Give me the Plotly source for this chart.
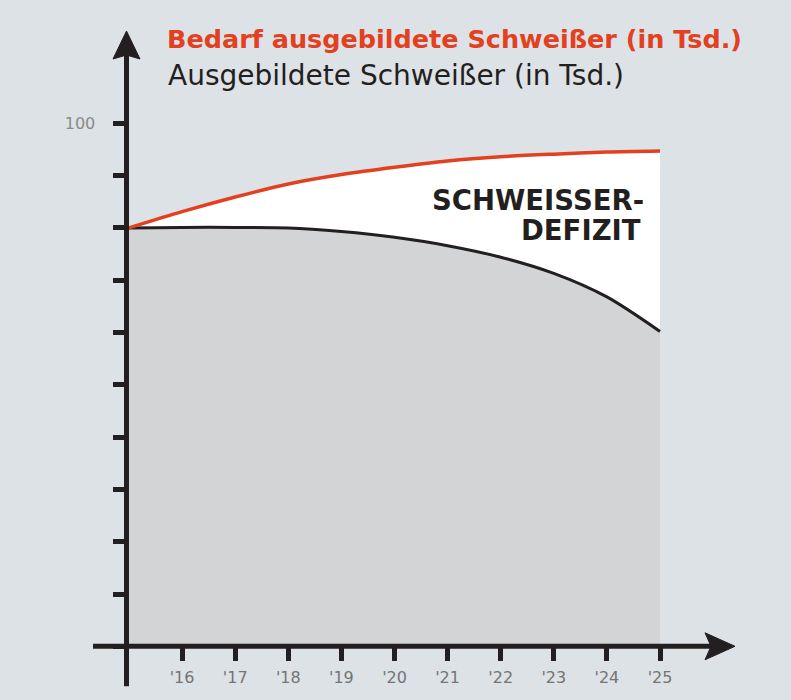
import plotly.graph_objects as go

# ---- data ----
years = [2015, 2016, 2017, 2018, 2019, 2020, 2021, 2022, 2023, 2024, 2025]
bedarf = [80.0, 83.1, 85.9, 88.4, 90.2, 91.6, 92.8, 93.6, 94.1, 94.5, 94.7]
ausgebildet = [80.0, 80.1, 80.1, 80.0, 79.3, 78.2, 76.6, 74.4, 71.3, 66.8, 60.2]
x_tickvals = [2016, 2017, 2018, 2019, 2020, 2021, 2022, 2023, 2024, 2025]
x_ticktext = ["'16", "'17", "'18", "'19", "'20", "'21", "'22", "'23", "'24", "'25"]
y_tickvals = [0, 10, 20, 30, 40, 50, 60, 70, 80, 90, 100]
y_ticktext = ["", "", "", "", "", "", "", "", "", "", "100"]

title_red = "Bedarf ausgebildete Schweißer (in Tsd.)"
title_black = "Ausgebildete Schweißer (in Tsd.)"
label_lines = ["SCHWEISSER-", "DEFIZIT"]

# ---- style ----
BG = "#dde2e6"
GRAY_FILL = "#d3d4d6"
RED = "#e2401f"
DARK = "#231f20"
W, H = 791, 700

fig = go.Figure()
fig.add_trace(go.Scatter(
    x=years, y=ausgebildet, mode="lines",
    line=dict(color=DARK, width=3, shape="spline", smoothing=0.8),
    fill="tozeroy", fillcolor=GRAY_FILL, hoverinfo="skip", showlegend=False))
fig.add_trace(go.Scatter(
    x=years, y=bedarf, mode="lines",
    line=dict(color=RED, width=3.5, shape="spline", smoothing=0.8),
    fill="tonexty", fillcolor="#ffffff", hoverinfo="skip", showlegend=False))

# pixel mapping of reference: 2015 -> 129px, 53.1 px/yr ; 0 -> 646.3px, 5.23 px/unit
px_per_yr = 53.1
px_per_unit = 5.23
x0_px = 129.0
y0_px = 646.3
xr = [2015 - x0_px / px_per_yr, 2015 + (W - x0_px) / px_per_yr]
yr = [-(H - y0_px) / px_per_unit, y0_px / px_per_unit]
yaxis_x = 2015 - 2.5 / px_per_yr

# axis lines (decoration)
fig.add_shape(type="line", xref="x", yref="y",
              x0=2015 - 36 / px_per_yr, x1=2015 + 595 / px_per_yr, y0=0, y1=0,
              line=dict(color=DARK, width=5), layer="above")
fig.add_shape(type="line", xref="x", yref="y",
              x0=yaxis_x, x1=yaxis_x, y0=-40 / px_per_unit, y1=(y0_px - 45) / px_per_unit,
              line=dict(color=DARK, width=5), layer="above")
# arrowheads
fig.add_shape(type="path", xref="x", yref="y", xsizemode="pixel", ysizemode="pixel",
              xanchor=2015 + 606 / px_per_yr, yanchor=0,
              path="M 0 0 L -30 13.5 L -24 0 L -30 -13.5 Z",
              fillcolor=DARK, line=dict(color=DARK, width=1), layer="above")
fig.add_shape(type="path", xref="x", yref="y", xsizemode="pixel", ysizemode="pixel",
              xanchor=yaxis_x, yanchor=(y0_px - 31) / px_per_unit,
              path="M 0 0 L -13.5 -28 L 0 -24 L 13.5 -28 Z",
              fillcolor=DARK, line=dict(color=DARK, width=1), layer="above")

# titles
fig.add_annotation(text=title_red, xref="paper", yref="paper", x=165 / W, y=1 - 38.5 / H,
                   xanchor="left", yanchor="middle", showarrow=False,
                   font=dict(family="DejaVu Sans", size=25.5, color=RED, weight="bold"))
fig.add_annotation(text=title_black, xref="paper", yref="paper", x=166 / W, y=1 - 76 / H,
                   xanchor="left", yanchor="middle", showarrow=False,
                   font=dict(family="DejaVu Sans", size=28, color=DARK))
for line_txt, cx, cy in zip(label_lines, [646, 643], [199.7, 230.2]):
    fig.add_annotation(text=line_txt, xref="paper", yref="paper", x=cx / W, y=1 - cy / H,
                       xanchor="right", yanchor="middle", showarrow=False,
                       font=dict(family="DejaVu Sans", size=27.5, color=DARK, weight="bold"))

fig.update_layout(
    width=W, height=H,
    margin=dict(l=0, r=0, t=0, b=0),
    paper_bgcolor=BG, plot_bgcolor=BG,
    template="none",
    xaxis=dict(range=xr, anchor="free", position=(H - y0_px) / H,
               showgrid=False, zeroline=False, showline=False,
               tickmode="array", tickvals=x_tickvals, ticktext=x_ticktext,
               ticks="outside", ticklen=14, tickwidth=4.5, tickcolor=DARK,
               ticklabelstandoff=2,
               tickfont=dict(family="DejaVu Sans", size=16, color="#747474"),
               automargin=False, fixedrange=True),
    yaxis=dict(range=yr, anchor="free", position=(x0_px - 2.5) / W,
               showgrid=False, zeroline=False, showline=False,
               tickmode="array", tickvals=y_tickvals, ticktext=y_ticktext,
               ticks="outside", ticklen=14, tickwidth=4.5, tickcolor=DARK,
               ticklabelstandoff=14,
               tickfont=dict(family="DejaVu Sans", size=16, color="#8a8a8a"),
               automargin=False, fixedrange=True),
)

fig.write_html("out.html", config={"displayModeBar": False},
               post_script="document.body.style.margin='0';document.body.style.padding='0';")
